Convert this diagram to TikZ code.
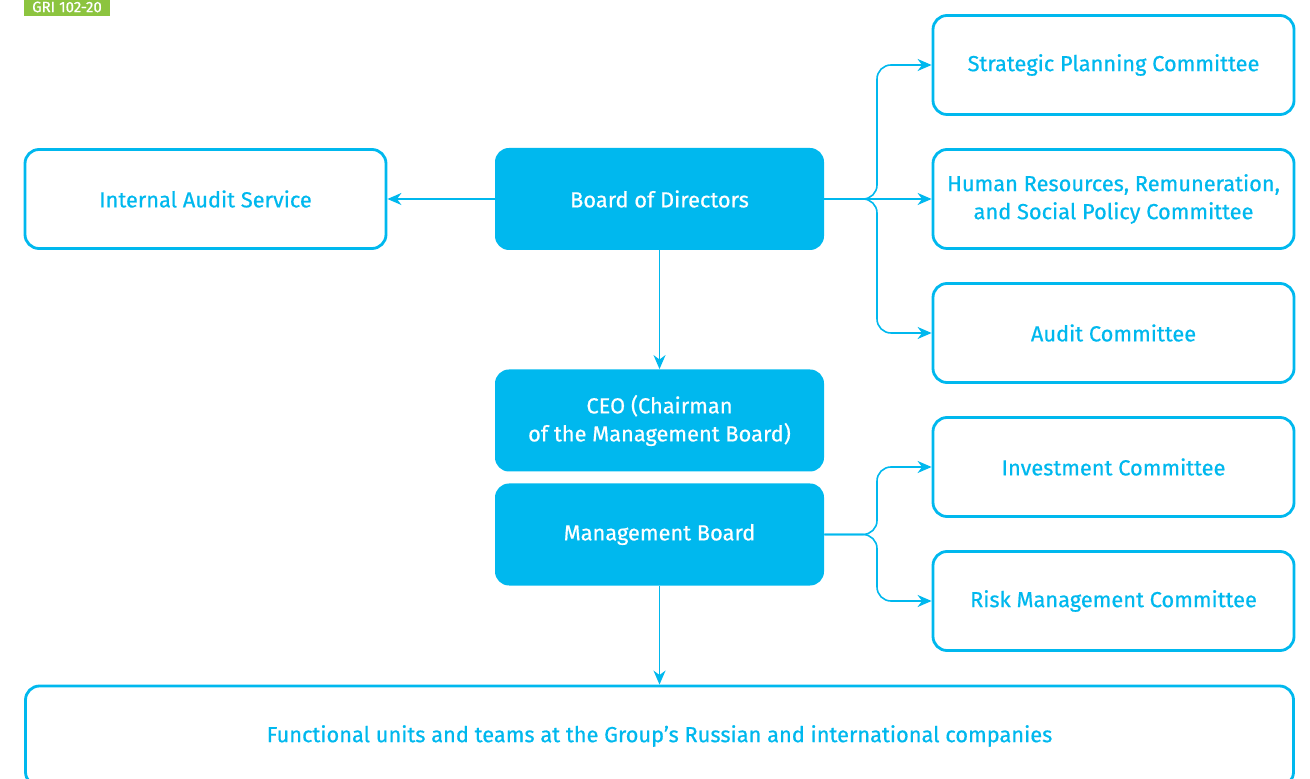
\documentclass[tikz,border=0pt]{standalone}
\usepackage{fontspec}
\setmainfont{Fira Sans}[UprightFeatures={FakeBold=0.6}]
\usepackage{xcolor}
\usetikzlibrary{positioning, arrows.meta}

\definecolor{gcyan}{HTML}{00B8EE}
\definecolor{ggreen}{HTML}{8CC43F}

\begin{document}
\begin{tikzpicture}[x=0.5pt, y=-0.5pt, font=\fontsize{10.9}{14}\selectfont,
    solid/.style = {fill=gcyan, text=white, rounded corners=7pt, minimum width=164.5pt, minimum height=51pt, align=center},
    frame/.style = {draw=gcyan, line width=1.4pt, text=gcyan, rounded corners=7pt, minimum width=180.5pt, minimum height=49.5pt, align=center},
    link/.style = {draw=gcyan, line width=0.8pt, -{Stealth[length=7pt, width=6pt, inset=2.2pt]}}]
    \useasboundingbox (0,0) rectangle (1310,779);

    % tag
    \node[fill=ggreen, text=white, inner sep=1pt, minimum width=43pt, minimum height=9pt, font=\fontsize{7.5}{8}\selectfont] (tag) at (67,7) {GRI 102-20};

    % centre column
    \node[solid] (bod) at (659.5,199) {Board of Directors};
    \node[solid] (ceo) at (659.5,420.5) {CEO (Chairman\\of the Management Board)};
    \node[solid] (mb) at (659.5,534.5) {Management Board};

    % left and right boxes
    \node[frame] (ias) at (205.5,199) {Internal Audit Service};
    \node[frame] (spc) at (1113.5,65) {Strategic Planning Committee};
    \node[frame] (hrc) at (1113.5,199) {Human Resources, Remuneration,\\and Social Policy Committee};
    \node[frame] (auc) at (1113.5,333) {Audit Committee};
    \node[frame] (inv) at (1113.5,467) {Investment Committee};
    \node[frame] (rmc) at (1113.5,601) {Risk Management Committee};

    % bottom box
    \node[frame, minimum width=634pt, minimum height=50pt] (fun) at (659.5,736) {Functional units and teams at the Group’s Russian and international companies};

    % forks
    \coordinate (f1) at (877,199);
    \coordinate (f2) at (877,534.5);

    % arrows
    \draw[link] (bod) -- (ias);
    \draw[link] (bod) -- (ceo);
    \draw[link] (mb) -- (fun);
    \draw[link] (bod.east) -- (hrc.west);
    \draw[link, rounded corners=7pt] (bod.east) -- (f1) |- (spc.west);
    \draw[link, rounded corners=7pt] (bod.east) -- (f1) |- (auc.west);
    \draw[link, rounded corners=7pt] (mb.east) -- (f2) |- (inv.west);
    \draw[link, rounded corners=7pt] (mb.east) -- (f2) |- (rmc.west);
\end{tikzpicture}
\end{document}
